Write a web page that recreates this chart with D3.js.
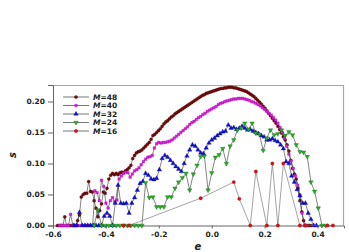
<!DOCTYPE html>
<html>
<head>
<meta charset="utf-8">
<script src="https://cdn.jsdelivr.net/npm/d3@7"></script>
<style>
  body { margin: 0; background: #fff; }
  svg { display: block; }
  text { font-family: "DejaVu Sans", sans-serif; font-weight: bold; }
</style>
</head>
<body>
<div id="chart"></div>
<script>
// energy grid for each system size: e = k / (3M)
const grid48 = { start: -84 / 144, step: 1 / 144 };
const grid40 = { start: -69 / 120, step: 1 / 120 };
const grid32 = { start: -50 / 96, step: 1 / 96 };
const grid24 = { start: -32 / 72, step: 1 / 72 };

// s values
const s48 = [0,0,0,0,0.014,0,0,0,0,0,
  0,0.008,0.017,0.046,0.05,0.052,0.052,0.071,0.055,0.054,
  0.04,0.028,0.014,0.024,0.035,0.054,0.052,0.06,0.075,0.081,
  0.084,0.082,0.084,0.082,0.085,0.086,0.085,0.088,0.09,0.093,
  0.097,0.108,0.113,0.117,0.119,0.12,0.122,0.125,0.128,0.131,
  0.134,0.139,0.145,0.147,0.15,0.153,0.156,0.16,0.164,0.167,
  0.169,0.172,0.175,0.177,0.18,0.182,0.184,0.186,0.188,0.19,
  0.192,0.194,0.196,0.198,0.2,0.202,0.204,0.206,0.208,0.21,
  0.211,0.213,0.214,0.215,0.216,0.217,0.218,0.219,0.22,0.221,
  0.221,0.222,0.222,0.223,0.223,0.223,0.222,0.222,0.221,0.22,
  0.219,0.218,0.217,0.216,0.214,0.212,0.21,0.208,0.205,0.202,
  0.199,0.196,0.192,0.189,0.185,0.181,0.177,0.173,0.169,0.165,
  0.16,0.155,0.149,0.143,0.138,0.13,0.12,0.105,0.092,0.083,
  0.075,0.06,0.04,0.022,0.008,0,0,0,0];

const s40 = [0,0,0,0,0,0.018,0,0,0,0,
  0,0,0,0,0,0,0.056,0.053,0.04,0.073,
  0.063,0.036,0.028,0.04,0.045,0.038,0.041,0.075,0.08,0.084,
  0.086,0.085,0.078,0.083,0.088,0.09,0.093,0.098,0.103,0.107,
  0.11,0.111,0.113,0.125,0.132,0.134,0.133,0.134,0.134,0.135,
  0.136,0.138,0.141,0.144,0.147,0.15,0.153,0.156,0.159,0.163,
  0.166,0.168,0.171,0.174,0.176,0.179,0.181,0.184,0.186,0.188,
  0.19,0.192,0.195,0.197,0.198,0.2,0.201,0.202,0.203,0.204,
  0.204,0.205,0.205,0.205,0.204,0.203,0.202,0.2,0.199,0.197,
  0.195,0.193,0.19,0.187,0.184,0.181,0.178,0.174,0.17,0.165,
  0.158,0.15,0.141,0.128,0.115,0.104,0.092,0.08,0.065,0.049,
  0.02,0,0];

const s32 = [0,0,0.021,0,0,0,0,0,0,0,
  0,0.015,0.02,0.015,0,0.036,0.065,0.036,0.035,0.036,
  0.02,0.036,0.045,0.057,0.068,0.071,0.084,0.081,0.075,0.074,
  0.076,0.09,0.108,0.113,0.11,0.105,0.1,0.095,0.091,0.087,
  0.1,0.112,0.122,0.13,0.128,0.122,0.117,0.116,0.125,0.133,
  0.138,0.141,0.145,0.148,0.151,0.152,0.162,0.157,0.158,0.155,
  0.157,0.16,0.157,0.154,0.155,0.152,0.15,0.148,0.145,0.143,
  0.138,0.138,0.14,0.137,0.135,0.13,0.124,0.103,0.1,0.08,
  0.07,0.058,0.048,0.036,0.036,0.02,0.01,0,0];

const s24 = [0,0.025,0,0,0,0,0,0,0,0,0,0,0,0,
  0.069,0.045,0.046,0.03,0.03,0.03,0.046,0.046,0.06,0.07,
  0.077,0.084,0.057,0.083,0.097,0.111,0.112,0.057,0.085,0.11,
  0.114,0.124,0.1,0.128,0.138,0.154,0.157,0.165,0.155,0.165,
  0.149,0.147,0.121,0.141,0.154,0.146,0.148,0.154,0.145,0.151,
  0.146,0.13,0.119,0.118,0.111,0.07,0.055,0.028,0,0];

// M=16 has gaps, so its energies are listed
const e16 = [-0.3333,-0.3125,-0.0417,0.0833,0.1042,0.1458,0.1667,0.2083,0.2292,0.25,0.2708,0.3333,0.3542,0.4375,0.4583];
const s16 = [0,0,0.044,0.07,0.043,0,0.087,0,0.1,0,0.1,0,0,0,0];

const labels = ["48", "40", "32", "24", "16"];
const xTicks = [-0.6, -0.4, -0.2, 0, 0.2, 0.4];
const yTicks = [0, 0.05, 0.1, 0.15, 0.2];

const onGrid = (g, vals) => vals.map((s, i) => ({ e: g.start + i * g.step, s: s }));

const series = [
  { name: labels[0], pts: onGrid(grid48, s48), sym: d3.symbolCircle, size: 8, fill: "#7a0a0a", stroke: "#2a0000", rot: 0 },
  { name: labels[1], pts: onGrid(grid40, s40), sym: d3.symbolSquare, size: 7, fill: "#e21ae2", stroke: "#8a108a", rot: 0 },
  { name: labels[2], pts: onGrid(grid32, s32), sym: d3.symbolTriangle, size: 9, fill: "#1010d8", stroke: "#000070", rot: 0 },
  { name: labels[3], pts: onGrid(grid24, s24), sym: d3.symbolTriangle, size: 9, fill: "#22b022", stroke: "#0a500a", rot: 180 },
  { name: labels[4], pts: e16.map((e, i) => ({ e: e, s: s16[i] })), sym: d3.symbolCircle, size: 9, fill: "#e01010", stroke: "#700000", rot: 0 }
];

const width = 349, height = 252;

const svg = d3.select("#chart").append("svg")
  .attr("width", width)
  .attr("height", height);

const x = d3.scaleLinear().domain([-0.6, 0.5]).range([53, 344]);
const y = d3.scaleLinear().domain([0, 0.2266]).range([225.5, 85]);

// frame top and right
svg.append("path")
  .attr("d", `M53,85.5H343.5V225.5`)
  .attr("fill", "none")
  .attr("stroke", "#a8a8a8")
  .attr("stroke-width", 1.2);

// axes
const yAxis = svg.append("g")
  .attr("transform", "translate(53,0)")
  .call(d3.axisLeft(y).tickValues(yTicks).tickFormat(d3.format(".2f")).tickSize(5).tickPadding(3));
const xAxis = svg.append("g")
  .attr("transform", "translate(0,225.5)")
  .call(d3.axisBottom(x).tickValues(xTicks).tickFormat(d => d.toFixed(1)).tickSize(3).tickPadding(3));

[yAxis, xAxis].forEach(g => {
  g.select(".domain").attr("stroke", "#666");
  g.selectAll(".tick line").attr("stroke", "#666");
  g.selectAll("text")
    .attr("fill", "#222")
    .style("font-size", "7.5px")
    .style("font-weight", "bold");
});

const line = d3.line().x(d => x(d.e)).y(d => y(d.s));

series.forEach(sr => {
  svg.append("path")
    .datum(sr.pts)
    .attr("d", line)
    .attr("fill", "none")
    .attr("stroke", sr.name === "16" ? "#666" : "#333")
    .attr("stroke-width", 0.6);

  svg.append("g").selectAll("path")
    .data(sr.pts)
    .join("path")
    .attr("d", d3.symbol().type(sr.sym).size(sr.size))
    .attr("transform", d => `translate(${x(d.e)},${y(d.s)}) rotate(${sr.rot})`)
    .attr("fill", sr.fill)
    .attr("stroke", sr.stroke)
    .attr("stroke-width", 0.3);
});

// legend
const legendY = [97, 105.5, 114, 122.5, 131];
const legend = svg.append("g");
series.forEach((sr, i) => {
  const ly = legendY[i];
  legend.append("line")
    .attr("x1", 63).attr("x2", 89)
    .attr("y1", ly).attr("y2", ly)
    .attr("stroke", "#555")
    .attr("stroke-width", 0.8);
  legend.append("path")
    .attr("d", d3.symbol().type(sr.sym).size(sr.size)())
    .attr("transform", `translate(76,${ly}) rotate(${sr.rot})`)
    .attr("fill", sr.fill)
    .attr("stroke", sr.stroke)
    .attr("stroke-width", 0.3);
  const t = legend.append("text")
    .attr("x", 93)
    .attr("y", ly + 2.7)
    .style("font-size", "7.5px")
    .attr("fill", "#222");
  t.append("tspan").style("font-style", "italic").text("M");
  t.append("tspan").text("=" + sr.name);
});

// axis titles
svg.append("text")
  .attr("x", 198)
  .attr("y", 250)
  .attr("text-anchor", "middle")
  .style("font-size", "10px")
  .style("font-style", "italic")
  .attr("fill", "#222")
  .text("e");

svg.append("text")
  .attr("transform", "translate(16,155) rotate(-90)")
  .attr("text-anchor", "middle")
  .style("font-size", "10px")
  .style("font-style", "italic")
  .attr("fill", "#222")
  .text("s");
</script>
</body>
</html>
